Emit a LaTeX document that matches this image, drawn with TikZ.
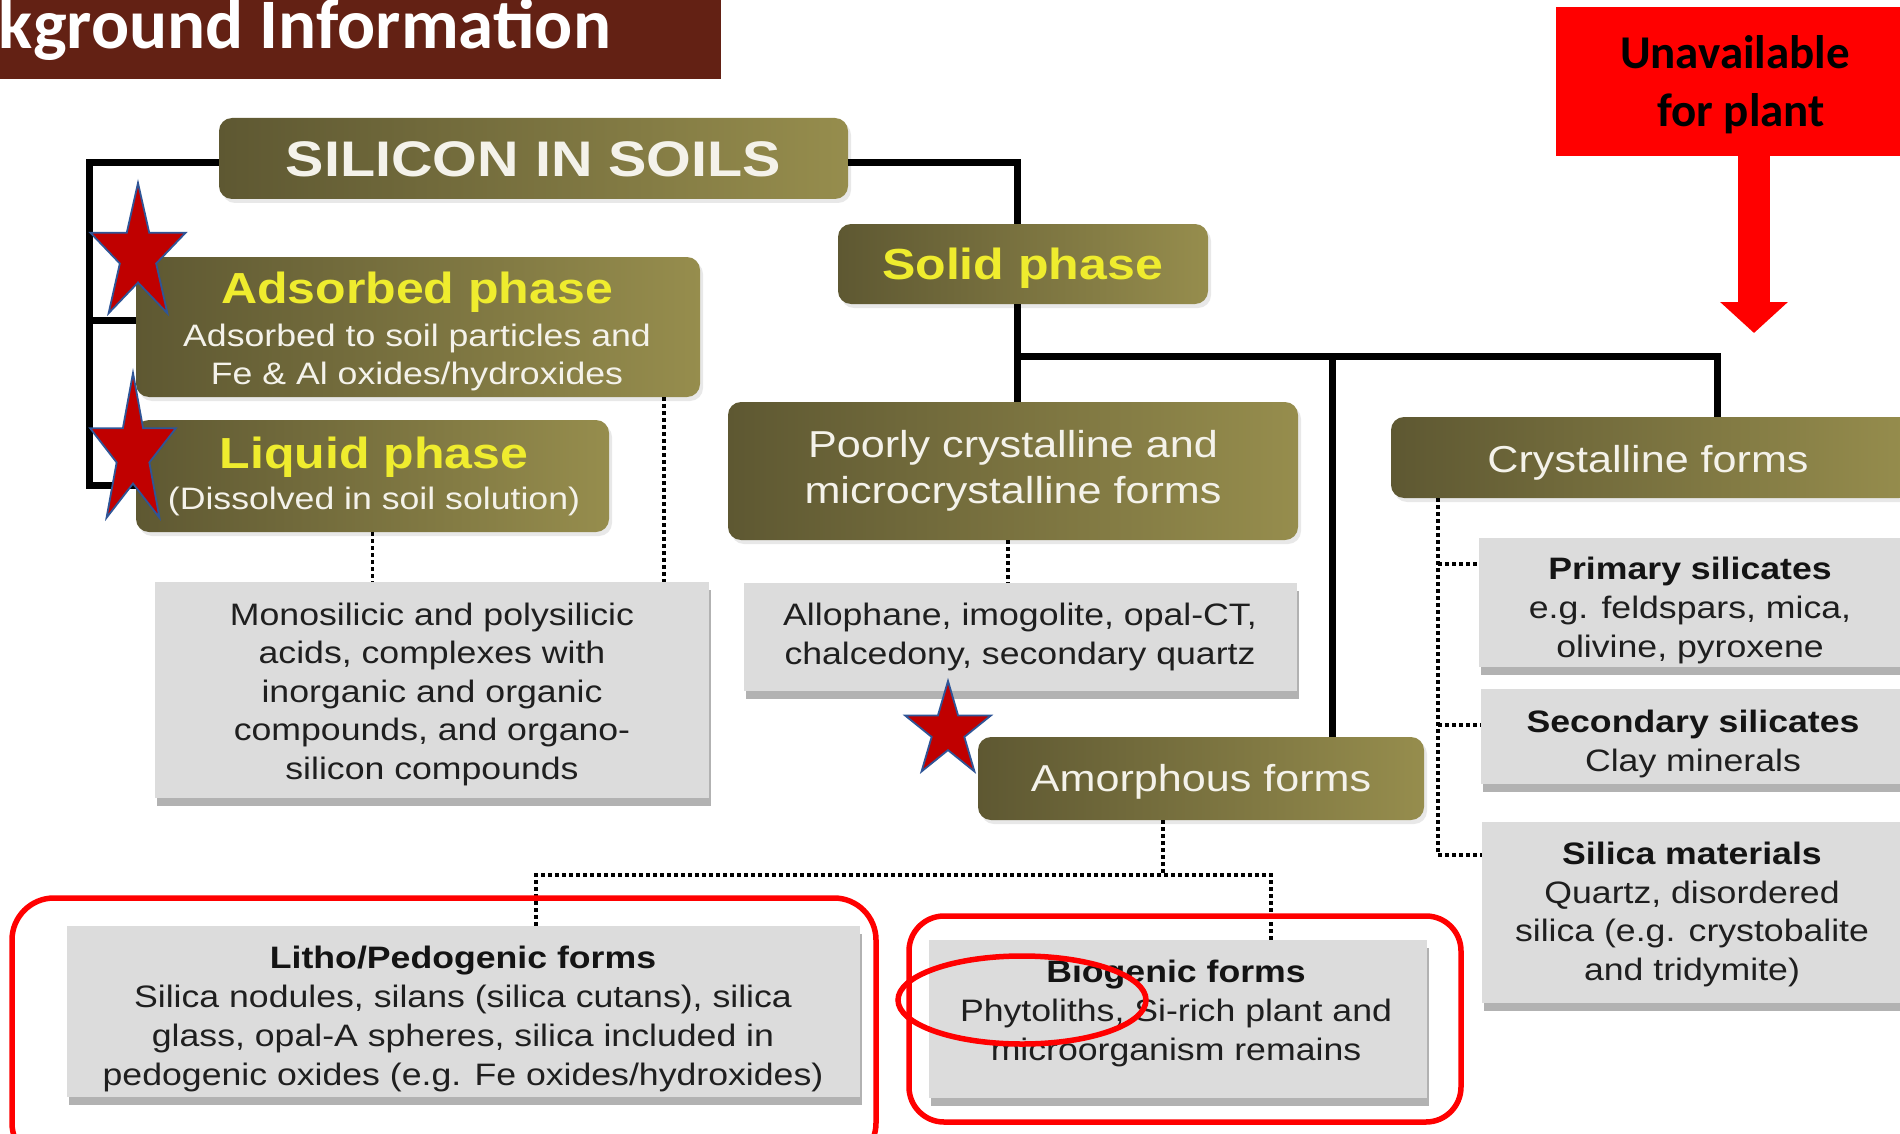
\documentclass[tikz,border=0pt]{standalone}
\usepackage{fontspec}
\setmainfont{Liberation Sans}[FakeStretch=1.15]
\newfontfamily\titlef{Carlito}
\usetikzlibrary{shadows,arrows.meta,calc}
\definecolor{bannerbrown}{HTML}{632114}
\definecolor{oliveA}{HTML}{5E5832}
\definecolor{oliveB}{HTML}{968D4D}
\definecolor{phaseyellow}{HTML}{EFEC2E}
\definecolor{boxgray}{HTML}{DCDCDC}
\definecolor{starred}{HTML}{C00000}
\definecolor{starblue}{HTML}{2F5597}
\definecolor{purered}{HTML}{FF0000}
\definecolor{offwhite}{HTML}{F4F2EA}
\tikzset{
  olivebox/.style={rounded corners=13pt, left color=oliveA, right color=oliveB, inner sep=0pt, draw=none,
    drop shadow={shadow xshift=3pt, shadow yshift=-4pt, opacity=0.18}},
  graybox/.style={fill=boxgray, inner sep=0pt, draw=none,
    drop shadow={shadow xshift=2pt, shadow yshift=-8pt, fill=black!60, opacity=0.5}},
  conn/.style={line width=7pt, black},
  dotconn/.style={line width=3.5pt, dash pattern=on 3.5pt off 3.5pt, black},
  txt/.style={anchor=base, inner sep=0pt, outer sep=0pt},
  ph/.style={txt, text=phaseyellow, font=\bfseries\fontsize{43.5}{50}\selectfont},
  wsub/.style={txt, text=offwhite, font=\fontsize{31}{36}\selectfont},
  whead/.style={txt, text=offwhite, font=\fontsize{37.5}{44}\selectfont},
  body/.style={txt, text=black!88, font=\fontsize{31}{36}\selectfont},
  bodyb/.style={txt, text=black!92, font=\bfseries\fontsize{31}{36}\selectfont},
  ring/.style={draw=purered, line width=5.5pt},
  starsty/.style={fill=starred, draw=starblue, line width=1.8pt, line join=miter},
  redtxt/.style={txt, text=black, font=\titlef\bfseries\fontsize{47}{56}\selectfont}
}
\newcommand\mystarshape[4]{%
  \draw[starsty] ({#1},{#2-#4})
    \foreach \a/\f in {126/0.382,162/1,198/0.382,234/1,270/0.382,306/1,342/0.382,18/1,54/0.382}
      { -- ({#1+\f*#3*cos(\a)},{#2-\f*#4*sin(\a)}) } -- cycle;}
\begin{document}
\begin{tikzpicture}[x=1pt,y=-1pt]
\useasboundingbox (0,0) rectangle (1900,1134);
\clip (0,0) rectangle (1900,1134);
\fill[white] (0,0) rectangle (1900,1134);

% title banner
\node[fill=bannerbrown, minimum width=721pt, minimum height=79pt, anchor=north west, inner sep=0pt] (banner) at (0,0) {};
\node[txt, anchor=base east, text=white, font=\titlef\bfseries\fontsize{71}{80}\selectfont] (title) at (611,49) {Background Information};

% unavailable box and arrow
\node[fill=purered, minimum width=360pt, minimum height=149pt, anchor=north west, inner sep=0pt] (unavail) at (1556,7) {};
\node[redtxt] (un1) at (1735,69) {Unavailable};
\node[redtxt] (un2) at (1741,127) {for plant};
\coordinate (ax) at (1754,0);
\coordinate (tip) at (1754,333);
\draw[line width=32pt, purered, -{Triangle[width=66pt,length=31pt]}] (unavail.south -| ax) -- (tip);

% olive boxes
\node[olivebox, minimum width=629pt, minimum height=81pt] (silicon) at (533.5,158.5) {};
\node[olivebox, minimum width=564pt, minimum height=140pt] (adsorbed) at (418,327) {};
\node[olivebox, minimum width=473pt, minimum height=112pt] (liquid) at (372.5,476) {};
\node[olivebox, minimum width=370pt, minimum height=80pt] (solid) at (1023,264) {};
\node[olivebox, minimum width=570pt, minimum height=138pt] (poorly) at (1013,471) {};
\node[olivebox, minimum width=521pt, minimum height=81pt] (crystalline) at (1651.5,457.5) {};
\node[olivebox, minimum width=446pt, minimum height=83pt] (amorphous) at (1201,778.5) {};

% gray boxes
\node[graybox, minimum width=554pt, minimum height=216pt] (mono) at (432,690) {};
\node[graybox, minimum width=553pt, minimum height=108pt] (allophane) at (1020.5,637) {};
\node[graybox, minimum width=421pt, minimum height=129pt] (primary) at (1689.5,602.5) {};
\node[graybox, minimum width=419pt, minimum height=95pt] (secondary) at (1690.5,736.5) {};
\node[graybox, minimum width=418pt, minimum height=181pt] (silica) at (1691,912.5) {};
\node[graybox, minimum width=793pt, minimum height=171pt] (litho) at (463.5,1011.5) {};
\node[graybox, minimum width=498pt, minimum height=158pt] (biogenic) at (1178,1019) {};

% texts in olive boxes
\node[txt, text=offwhite, font=\bfseries\fontsize{50}{56}\selectfont] (t-sil) at (533.5,177) {SILICON IN SOILS};
\node[ph] (t-ads1) at (417,303) {Adsorbed phase};
\node[wsub] (t-ads2) at (417,346) {Adsorbed to soil particles and};
\node[wsub] (t-ads3) at (417,384) {Fe \& Al oxides/hydroxides};
\node[ph] (t-liq1) at (374,468) {Liquid phase};
\node[wsub] (t-liq2) at (374,509) {(Dissolved in soil solution)};
\node[ph] (t-sol) at (1022.5,279) {Solid phase};
\node[whead] (t-poo1) at (1013,457) {Poorly crystalline and};
\node[whead] (t-poo2) at (1013,503) {microcrystalline forms};
\node[whead] (t-cry) at (1648,472) {Crystalline forms};
\node[whead] (t-amo) at (1201,791) {Amorphous forms};

% texts in gray boxes
\node[body] (t-mo1) at (432,625) {Monosilicic and polysilicic};
\node[body] (t-mo2) at (432,663.5) {acids, complexes with};
\node[body] (t-mo3) at (432,702) {inorganic and organic};
\node[body] (t-mo4) at (432,740.5) {compounds, and organo-};
\node[body] (t-mo5) at (432,779) {silicon compounds};
\node[body] (t-al1) at (1020,625) {Allophane, imogolite, opal-CT,};
\node[body] (t-al2) at (1020,664) {chalcedony, secondary quartz};
\node[bodyb] (t-pr1) at (1690,579) {Primary silicates};
\node[body] (t-pr2) at (1690,618) {e.g. feldspars, mica,};
\node[body] (t-pr3) at (1690,657) {olivine, pyroxene};
\node[bodyb] (t-se1) at (1693,732) {Secondary silicates};
\node[body] (t-se2) at (1693,771) {Clay minerals};
\node[bodyb] (t-si1) at (1692,864) {Silica materials};
\node[body] (t-si2) at (1692,903) {Quartz, disordered};
\node[body] (t-si3) at (1692,941) {silica (e.g. crystobalite};
\node[body] (t-si4) at (1692,980) {and tridymite)};
\node[bodyb] (t-li1) at (463,968) {Litho/Pedogenic forms};
\node[body] (t-li2) at (463,1007) {Silica nodules, silans (silica cutans), silica};
\node[body] (t-li3) at (463,1046) {glass, opal-A spheres, silica included in};
\node[body] (t-li4) at (463,1085) {pedogenic oxides (e.g. Fe oxides/hydroxides)};
\node[bodyb] (t-bi1) at (1176,982) {Biogenic forms};
\node[body] (t-bi2) at (1176,1021) {Phytoliths, Si-rich plant and};
\node[body] (t-bi3) at (1176,1060) {microorganism remains};

% solid connectors
\coordinate (spine) at (89,0);
\coordinate (jx) at (1017,356);
\coordinate (amx) at (1332,0);
\coordinate (crx) at (1717,0);
\coordinate (silout) at ([yshift=-4.5pt]silicon.west);
\coordinate (silr) at ([yshift=-4.5pt]silicon.east);
\coordinate (liqin) at ([yshift=-9pt]liquid.west);
\coordinate (adsin) at ([yshift=7pt]adsorbed.west);
\draw[conn] (silout) -| (spine |- liqin) -- (liqin);
\draw[conn] (spine |- adsin) -- (adsin);
\draw[conn] (silr) -| (jx |- solid.north);
\draw[conn] (jx |- solid.south) -- (jx |- poorly.north);
\draw[conn] (jx) -| (crx |- crystalline.north);
\draw[conn] (amx |- jx) -- (amx |- amorphous.north);

% dotted connectors
\coordinate (dA) at (664,0);
\coordinate (dP) at (1008,0);
\coordinate (amy) at (1163,875);
\coordinate (lithx) at (536,0);
\coordinate (biox) at (1271,0);
\coordinate (crv) at (1438,0);
\coordinate (bp) at (0,564);
\coordinate (bs) at (0,725);
\coordinate (bm) at (0,855);
\draw[dotconn] (liquid.south) -- (liquid.south |- mono.north);
\draw[dotconn] (dA |- adsorbed.south) -- (dA |- mono.north);
\draw[dotconn] (dP |- poorly.south) -- (dP |- allophane.north);
\draw[dotconn] (amy |- amorphous.south) -- (amy);
\draw[dotconn] (lithx |- litho.north) -- (lithx |- amy) -- (biox |- amy) -- (biox |- biogenic.north);
\draw[dotconn] (crv |- crystalline.south) -- (crv |- bm) -- (silica.west |- bm);
\draw[dotconn] (crv |- bp) -- (primary.west |- bp);
\draw[dotconn] (crv |- bs) -- (secondary.west |- bs);

% red highlight rings
\draw[ring, rounded corners=42pt] (12,898) rectangle (876,1165);
\draw[ring, rounded corners=35pt] (909,916) rectangle (1461,1122);
\draw[ring] (1022,1000) ellipse [x radius=124pt, y radius=44pt];

% stars
\mystarshape{138}{255}{50}{72}
\mystarshape{133}{453}{45}{80}
\mystarshape{948}{731}{45}{50}
\end{tikzpicture}
\end{document}
